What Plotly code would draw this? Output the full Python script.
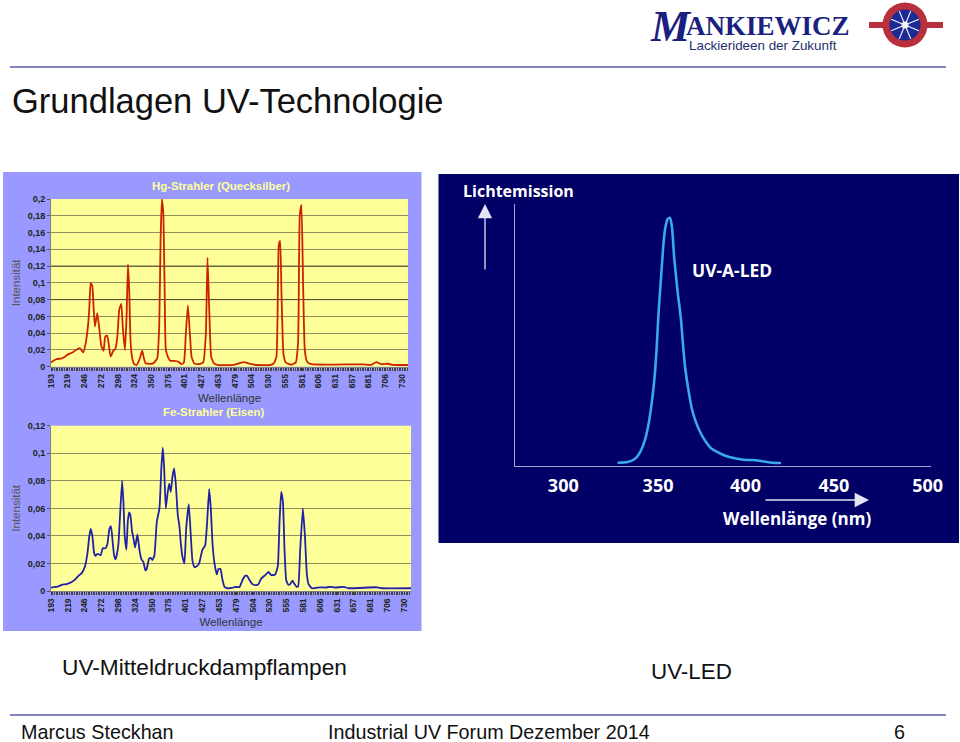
import math
import numpy as np
import plotly.graph_objects as go

W, H = 960, 742

tick_labels = ["193","219","246","272","298","324","350","375","401","427","453","479","504","530","555","581","606","631","657","681","706","730"]
hg_y_ticks = [0,0.02,0.04,0.06,0.08,0.1,0.12,0.14,0.16,0.18,0.2]
fe_y_ticks = [0,0.02,0.04,0.06,0.08,0.1,0.12]
hg_dark_grid = [0.08, 0.12]

hg_nm = [193,196.6,201.7,209.3,214.4,219.5,226.1,231.2,237.3,242.4,246.5,249.5,251.6,253.6,256.2,258.2,260.2,263.8,266.9,269.9,273.5,276,279.1,281.6,284.2,288.3,291.3,294.4,297.4,300.5,303,306.1,308.6,310.7,312.7,314.7,317.3,320.4,323.9,328,332.6,335.1,337.7,342.8,349.4,355.5,358.6,360.6,362.6,364.7,366.7,368.7,372.8,375.9,381,387.6,392.7,396.3,399.3,402.4,405.4,408,412,418.2,425.8,429.9,432.4,435,438,442.1,448.7,471.6,488.5,494.6,507.3,527.7,533.8,537.9,541.4,543.5,545.5,548.6,552.1,560.8,567.4,571,573.5,576.1,578.6,581.2,584.7,591.4,624.5,670.3,683,690.7,698.3,708.5,716.2,739]
hg_int = [.005,.007,.009,.010,.012,.015,.017,.020,.022,.017,.03,.048,.07,.100,.096,.07,.048,.064,.045,.025,.019,.036,.037,.025,.012,.019,.021,.035,.068,.075,.045,.020,.06,.122,.09,.03,.01,.003,.002,.008,.019,.01,.004,.0035,.004,.01,.05,.15,.2,.185,.10,.02,.01,.007,.007,.006,.003,.005,.04,.073,.04,.012,.004,.003,.005,.04,.13,.07,.012,.004,.002,.0022,.0055,.004,.002,.002,.004,.012,.145,.15,.09,.015,.005,.0025,.005,.03,.18,.193,.1,.02,.006,.003,.0025,.0028,.0022,.0055,.003,.0035,.0022,.002]

fe_nm = [193,204.2,209.2,216.8,224.5,231,234.6,239.7,244.7,248.3,251.3,253.4,255.9,258.4,260.5,263.5,268.6,271.6,275.7,278.7,281.8,284.3,286.9,288.9,290.9,292.9,295.5,298,301.1,303.1,305.1,307.7,309.7,311.7,313.7,316.3,317.8,320.8,324.4,327.4,330.5,333.5,336.6,338.6,342.1,344.7,347.2,350.3,353.8,357.9,360.9,362.9,365,367.5,370,372.6,375.1,377.7,380.2,382.7,385.8,388.3,390.3,392.9,395.9,398.5,402.5,405.6,408.1,411.1,414.7,418.2,423.3,427.4,430.4,433.5,436,438.5,441.6,445.1,447.7,450.7,453.8,456.8,461.9,468,473,479.6,484.2,488.2,491.3,494.8,499.4,505,508.5,512.6,518.7,523.8,527.8,533.9,537.9,540.5,543,545.6,548.1,550.6,553.7,556.7,560.3,563.3,566.4,568.9,571.9,576,579.1,582.1,584.6,589.7,602.4,610,617.6,625.2,637.9,645.5,688.6,696.2,740.4]
fe_int = [.0025,.0033,.0045,.005,.0065,.009,.011,.013,.018,.027,.04,.045,.04,.028,.0255,.027,.026,.031,.031,.034,.045,.047,.035,.026,.023,.026,.034,.055,.08,.065,.04,.03,.05,.057,.055,.043,.04,.0315,.041,.03,.023,.021,.015,.016,.0235,.024,.0225,.026,.05,.06,.09,.104,.09,.06,.07,.078,.072,.083,.089,.078,.055,.047,.035,.025,.02,.045,.063,.04,.022,.0175,.018,.02,.03,.033,.05,.074,.06,.035,.02,.012,.016,.016,.008,.003,.002,.0022,.003,.0028,.008,.011,.011,.008,.005,.0042,.005,.009,.0115,.0138,.0115,.012,.018,.05,.072,.065,.03,.008,.0045,.005,.0075,.005,.003,.0035,.03,.06,.04,.012,.005,.002,.0027,.0025,.003,.0025,.003,.002,.0027,.002,.002]

led_nm = [329.8,335.3,339,341.7,344.5,346.3,348.1,350,351.2,352.3,353.6,354.9,356,357.3,358.6,359.7,360.9,362.8,364.6,365.9,367,368.6,370.6,372.8,375.6,378.3,381.1,384.7,389.3,394.8,400.3,403.9,409.4,414.9,419.5]
led_int = [1.3,1.6,2.7,5,9.7,15,23,35,47,62,75.4,88.9,96,99.6,100,96,83.5,70,59,47,39,31,23,17.7,13,9.7,7.2,5.6,4,3,2.4,2.4,1.9,1.3,1.2]
led_tick_pos = [300,352,400,448.5,500]
led_tick_labels = ["300","350","400","450","500"]

def px(x): return x / W
def py(y): return 1 - y / H

shapes, ann = [], []
def rect(x0, y0, x1, y1, fill):
    shapes.append(dict(type="rect", xref="paper", yref="paper", x0=px(x0), x1=px(x1), y0=py(y0), y1=py(y1),
                       fillcolor=fill, line=dict(width=0), layer="below"))
def seg(x0, y0, x1, y1, color, w):
    shapes.append(dict(type="line", xref="paper", yref="paper", x0=px(x0), x1=px(x1), y0=py(y0), y1=py(y1),
                       line=dict(color=color, width=w), layer="above"))
def circ(cx, cy, r, fill):
    shapes.append(dict(type="circle", xref="paper", yref="paper", x0=px(cx-r), x1=px(cx+r), y0=py(cy+r), y1=py(cy-r),
                       fillcolor=fill, line=dict(width=0), layer="above"))
def txt(s, x, y, size, color="#111111", anchor="left", family="Liberation Sans", bold=False):
    ann.append(dict(text=f"<b>{s}</b>" if bold else s, x=px(x), y=py(y), xref="paper", yref="paper", showarrow=False,
                    xanchor=anchor, yanchor="middle", font=dict(size=size, color=color, family=family)))
def arrow(x0, y0, x1, y1):
    ann.append(dict(x=px(x1), y=py(y1), ax=x0-x1, ay=y0-y1, xref="paper", yref="paper", axref="pixel", ayref="pixel",
                    text="", showarrow=True, arrowhead=2, arrowsize=2.2, arrowwidth=1.3, arrowcolor="#e4e4f4"))

# slide furniture
rect(3, 172, 421.5, 631, "#9999FF")
rect(438.5, 174, 959, 543, "#000066")
seg(10, 67, 946, 67, "#5a5ab0", 1.6)
seg(10, 715, 946, 715, "#5a5ab0", 1.6)
txt("Grundlagen UV-Technologie", 10, 101, 34.5)
txt("UV-Mitteldruckdampflampen", 60, 667, 22.7)
txt("UV-LED", 649, 671, 22.4)
txt("Marcus Steckhan", 19, 732, 19.75)
txt("Industrial UV Forum Dezember 2014", 326, 732, 19.75)
txt("6", 892, 732, 19.75)

# logo
ann.append(dict(text="<b><i>M</i></b>", x=px(648), y=py(26), xref="paper", yref="paper", showarrow=False,
                xanchor="left", yanchor="middle", font=dict(size=44, color="#1a1f80", family="Liberation Serif")))
ann.append(dict(text="<b>ANKIEWICZ</b>", x=px(684), y=py(26), xref="paper", yref="paper", showarrow=False,
                xanchor="left", yanchor="middle", font=dict(size=27, color="#1a1f80", family="Liberation Serif")))
txt("Lackierideen der Zukunft", 687, 45, 13.4, color="#25306e")
seg(869, 25, 943, 25, "#b8303c", 6)
circ(905, 25, 22.5, "#b8303c")
circ(905, 25, 15.5, "#1c2a96")
for k in range(8):
    a = k * math.pi / 4 + math.pi / 8
    seg(905, 25, 905 + 15 * math.cos(a), 25 + 15 * math.sin(a), "#f2f2f2", 1.2)
circ(905, 25, 3.5, "#f2f2f2")

# panel labels
yel = "#FFFF99"
txt("Hg-Strahler (Quecksilber)", 221, 185.5, 11.4, color=yel, anchor="center", bold=True)
txt("Fe-Strahler (Eisen)", 213.5, 412, 11.4, color=yel, anchor="center", bold=True)
txt("Lichtemission", 518, 191, 16, color="white", anchor="center", family="Open Sans", bold=True)
txt("UV-A-LED", 732, 270, 17.4, color="white", anchor="center", family="Open Sans", bold=True)
txt("Wellenlänge (nm)", 797, 518, 17, color="white", anchor="center", family="Open Sans", bold=True)
arrow(485, 271, 485, 204)
arrow(764, 500, 869, 500)

fig = go.Figure()
for yv in hg_dark_grid:
    fig.add_trace(go.Scatter(x=[193, 739.1], y=[yv, yv], mode="lines", line=dict(color="#4a4a30", width=1),
                             xaxis="x", yaxis="y", showlegend=False, hoverinfo="skip"))
fig.add_trace(go.Scatter(x=hg_nm, y=hg_int, mode="lines", line=dict(color="#CC2200", width=1.8, shape="spline", smoothing=0.4),
                         xaxis="x", yaxis="y", showlegend=False))
fig.add_trace(go.Scatter(x=fe_nm, y=fe_int, mode="lines", line=dict(color="#2020A8", width=1.8, shape="spline", smoothing=0.4),
                         xaxis="x2", yaxis="y2", showlegend=False))
fig.add_trace(go.Scatter(x=led_nm, y=led_int, mode="lines", line=dict(color="#38A8F0", width=2.6, shape="spline", smoothing=0.5),
                         xaxis="x3", yaxis="y3", showlegend=False))

tick_font = dict(size=8.5, color="#222222", family="Liberation Sans")
def bold(s): return f"<b>{s}</b>"
def spectrum_x(domain, right, anchor):
    pos = np.linspace(193, 730, len(tick_labels))
    return dict(domain=[px(domain[0]), px(domain[1])], anchor=anchor, range=[193, right], tickmode="array",
                tickvals=list(pos), ticktext=[bold(t) for t in tick_labels], tickangle=-90, tickfont=tick_font,
                ticks="outside", ticklen=3, tickcolor="#333333", showgrid=False, zeroline=False,
                showline=True, linecolor="#808080", linewidth=1,
                minor=dict(ticks="outside", ticklen=3, tickcolor="#444444", dtick=2.56, tick0=193),
                title=dict(text="Wellenlänge", font=dict(size=11.5, color="#333333", family="Liberation Sans"), standoff=6))
def spectrum_y(ticks, rng, dom, anchor):
    return dict(domain=[py(dom[1]), py(dom[0])], anchor=anchor, range=rng, tickmode="array", tickvals=ticks,
                ticktext=[bold(str(t).replace(".", ",")) for t in ticks], tickfont=dict(size=9, color="#222222", family="Liberation Sans"),
                ticks="outside", ticklen=3, tickcolor="#555555", gridcolor="#8f8f60", gridwidth=1, showgrid=True, zeroline=False,
                showline=True, linecolor="#808080", linewidth=1,
                title=dict(text="Intensität", font=dict(size=11.5, color="#555555", family="Liberation Sans"), standoff=4))

for xd, yd in (("x domain", "y domain"), ("x2 domain", "y2 domain")):
    shapes.append(dict(type="rect", xref=xd, yref=yd, x0=0, x1=1, y0=0, y1=1, fillcolor=yel, line=dict(width=0), layer="below"))
shapes.append(dict(type="rect", xref="x3 domain", yref="y3 domain", x0=0, x1=1, y0=0, y1=1, fillcolor="#000066", line=dict(width=0), layer="below"))

fig.update_layout(
    width=W, height=H, margin=dict(l=0, r=0, t=0, b=0), autosize=False,
    paper_bgcolor="white", plot_bgcolor=yel, showlegend=False, shapes=shapes, annotations=ann,
    xaxis=spectrum_x((51, 408), 739.1, "y"),
    yaxis=spectrum_y(hg_y_ticks, [0, 0.2], (199, 366.7), "x"),
    xaxis2=spectrum_x((51, 411), 740.4, "y2"),
    yaxis2=spectrum_y(fe_y_ticks, [0, 0.12], (425.7, 591), "x2"),
    xaxis3=dict(domain=[px(515), px(931)], anchor="y3", range=[273.5, 501.8], tickmode="array", tickvals=led_tick_pos,
                ticktext=[bold(t) for t in led_tick_labels], tickfont=dict(size=18, color="white", family="Open Sans"),
                ticks="", ticklabelstandoff=3, showgrid=False, zeroline=False, showline=True, linecolor="#a4a4cc", linewidth=1.4),
    yaxis3=dict(domain=[py(466), py(204)], anchor="x3", range=[0, 105.6], showticklabels=False, ticks="", showgrid=False,
                zeroline=False, showline=True, linecolor="#a4a4cc", linewidth=1.4),
    template=None,
)

fig.write_html("out.html", config={"displayModeBar": False}, post_script="document.body.style.margin='0';")
